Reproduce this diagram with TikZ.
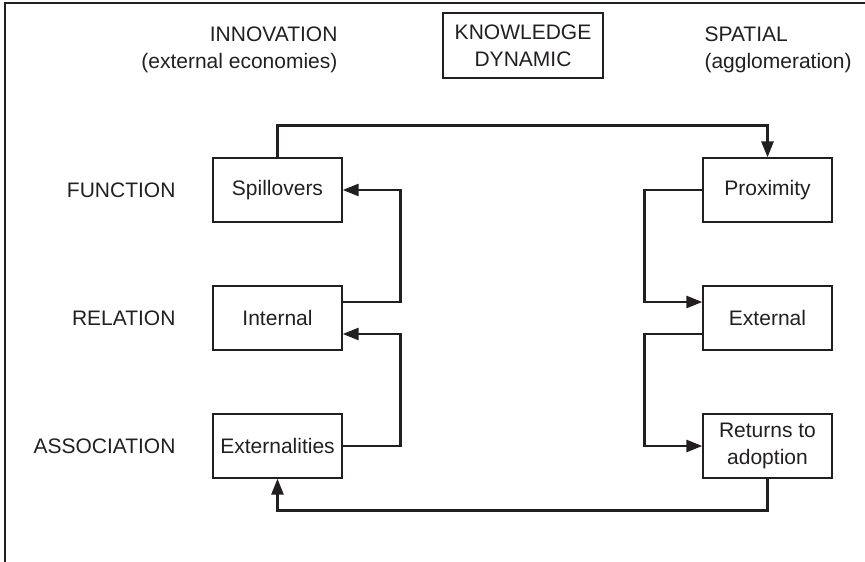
\documentclass[tikz,border=0pt]{standalone}
\usepackage{fontspec}
\setmainfont{Liberation Sans}
\usetikzlibrary{arrows.meta}
\definecolor{ink}{HTML}{231F20}
\begin{document}
\begin{tikzpicture}[x=1pt,y=-1pt,
  every node/.style={text=ink,font=\fontsize{21}{27}\selectfont},
  cell/.style={draw=ink,line width=1.3pt,minimum width=129pt,minimum height=64pt,inner sep=0pt,align=center},
  title/.style={draw=ink,line width=1.3pt,minimum width=160pt,minimum height=65pt,inner sep=0pt,align=center},
  conn/.style={draw=ink,line width=2.7pt,-{Triangle[length=16pt,width=12pt]}}]
  \useasboundingbox (0,0) rectangle (865,562);
  % frame edges
  \draw[ink,line width=1.3pt] (5,562) -- (5,3) -- (865,3);
  % column and row headings
  \node[title] (kd) at (523,45.5) {KNOWLEDGE\\DYNAMIC};
  \node[anchor=east,align=right] (innov) at (341,50) {INNOVATION\\(external economies)};
  \node[anchor=west,align=left] (spat) at (701,50) {SPATIAL\\(agglomeration)};
  \node[anchor=east] (lfun) at (179,190) {FUNCTION};
  \node[anchor=east] (lrel) at (179,318) {RELATION};
  \node[anchor=east] (lass) at (179,446) {ASSOCIATION};
  % boxes
  \node[cell] (spill) at (277.5,190) {Spillovers};
  \node[cell] (internal) at (277.5,318) {Internal};
  \node[cell] (extern) at (277.5,446) {Externalities};
  \node[cell] (prox) at (767.5,190) {Proximity};
  \node[cell] (external) at (767.5,318) {External};
  \node[cell] (returns) at (767.5,446) {Returns to\\adoption};
  % connectors
  \draw[conn] (spill.north) -- ++(0,-32) -| (prox.north);
  \draw[conn] ([yshift=16pt]internal.east) -- ++(58,0) |- (spill.east);
  \draw[conn] (extern.east) -- ++(58,0) |- ([yshift=-16pt]internal.east);
  \draw[conn] (prox.west) -- ++(-58,0) |- ([yshift=16pt]external.west);
  \draw[conn] ([yshift=-16pt]external.west) -- ++(-58,0) |- (returns.west);
  \draw[conn] (returns.south) -- ++(0,32) -| (extern.south);
\end{tikzpicture}
\end{document}
